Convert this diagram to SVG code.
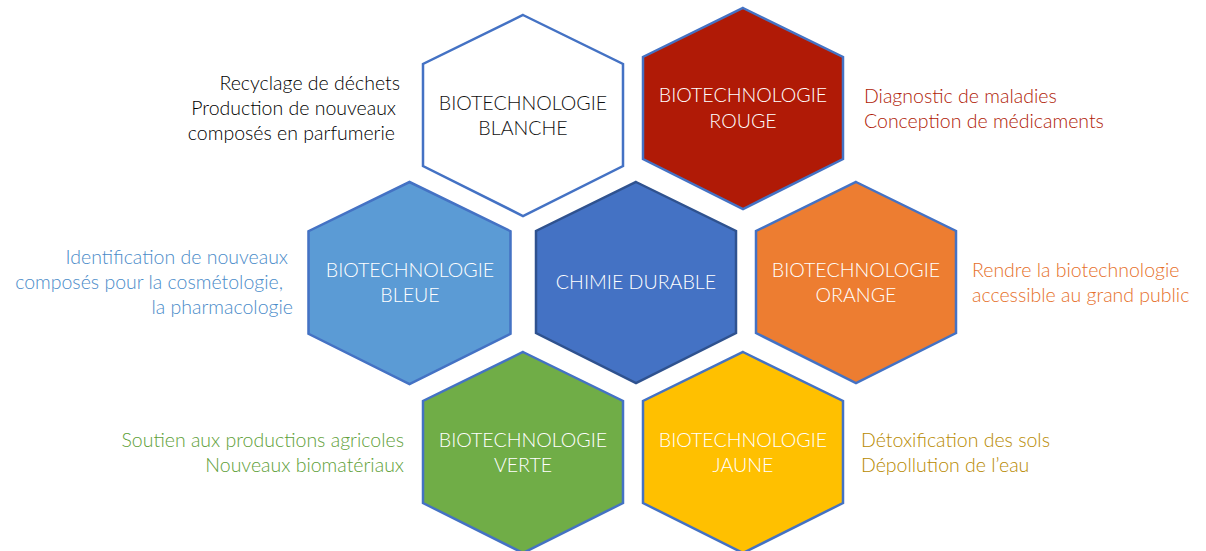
<svg xmlns="http://www.w3.org/2000/svg" xmlns:xlink="http://www.w3.org/1999/xlink" width="1206" height="551" viewBox="0 0 1206 551">
  <style>
    .hex { stroke: #4472C4; stroke-width: 2.5; stroke-linejoin: miter; }
    .t { font-family: Lato, "Open Sans", "Liberation Sans", sans-serif; font-weight: 300; font-size: 19.6px; text-anchor: middle; }
    .s { font-family: Lato, "Open Sans", "Liberation Sans", sans-serif; font-weight: 300; font-size: 19.5px; }
    .r { text-anchor: end; }
    .w { fill: #FFFFFF; }
  </style>
  <defs>
    <path id="hexshape" d="M0,0 L100,49 L100,151 L0,201 L-100,151 L-100,49 Z"/>
  </defs>
  <rect width="1206" height="551" fill="#FFFFFF"/>
  <g id="blanche">
    <use xlink:href="#hexshape" class="hex" fill="#FFFFFF" transform="translate(523,15)"/>
    <text class="t" fill="#111111" x="523" y="110">BIOTECHNOLOGIE</text>
    <text class="t" fill="#111111" x="523" y="135">BLANCHE</text>
    <text class="s r" fill="#000000" x="400" y="90">Recyclage de déchets</text>
    <text class="s r" fill="#000000" x="396" y="115">Production de nouveaux</text>
    <text class="s r" fill="#000000" x="395" y="140">composés en parfumerie</text>
  </g>
  <g id="rouge">
    <use xlink:href="#hexshape" class="hex" fill="#B01A06" transform="translate(743,8)"/>
    <text class="t w" x="743" y="102">BIOTECHNOLOGIE</text>
    <text class="t w" x="743" y="128">ROUGE</text>
    <text class="s" fill="#B01A06" x="864" y="103">Diagnostic de maladies</text>
    <text class="s" fill="#B01A06" x="864" y="128">Conception de médicaments</text>
  </g>
  <g id="bleue">
    <use xlink:href="#hexshape" class="hex" fill="#5B9BD5" transform="translate(409.5,182) scale(1.01,1.005)"/>
    <text class="t w" x="410" y="277">BIOTECHNOLOGIE</text>
    <text class="t w" x="410" y="302">BLEUE</text>
    <text class="s r" fill="#4A8BC9" x="288" y="264">Identification de nouveaux</text>
    <text class="s r" fill="#4A8BC9" x="283" y="289">composés pour la cosmétologie,</text>
    <text class="s r" fill="#4A8BC9" x="293" y="314">la pharmacologie</text>
  </g>
  <g id="chimie">
    <use xlink:href="#hexshape" fill="#4472C4" stroke="#2F528F" stroke-width="2.5" transform="translate(636,182)"/>
    <text class="t w" x="636" y="289">CHIMIE DURABLE</text>
  </g>
  <g id="orange">
    <use xlink:href="#hexshape" class="hex" fill="#ED7D31" transform="translate(856,182)"/>
    <text class="t w" x="856" y="277">BIOTECHNOLOGIE</text>
    <text class="t w" x="856" y="302">ORANGE</text>
    <text class="s" fill="#E6702A" x="972" y="277">Rendre la biotechnologie</text>
    <text class="s" fill="#E6702A" x="972" y="302">accessible au grand public</text>
  </g>
  <g id="verte">
    <use xlink:href="#hexshape" class="hex" fill="#70AD47" transform="translate(523,352)"/>
    <text class="t w" x="523" y="447">BIOTECHNOLOGIE</text>
    <text class="t w" x="523" y="472">VERTE</text>
    <text class="s r" fill="#60A038" x="404" y="447">Soutien aux productions agricoles</text>
    <text class="s r" fill="#60A038" x="404" y="472">Nouveaux biomatériaux</text>
  </g>
  <g id="jaune">
    <use xlink:href="#hexshape" class="hex" fill="#FFC000" transform="translate(743,352)"/>
    <text class="t w" x="743" y="447">BIOTECHNOLOGIE</text>
    <text class="t w" x="743" y="472">JAUNE</text>
    <text class="s" fill="#B88A00" x="861" y="447">Détoxification des sols</text>
    <text class="s" fill="#B88A00" x="861" y="472">Dépollution de l’eau</text>
  </g>
  <g id="connectors"></g>
</svg>
